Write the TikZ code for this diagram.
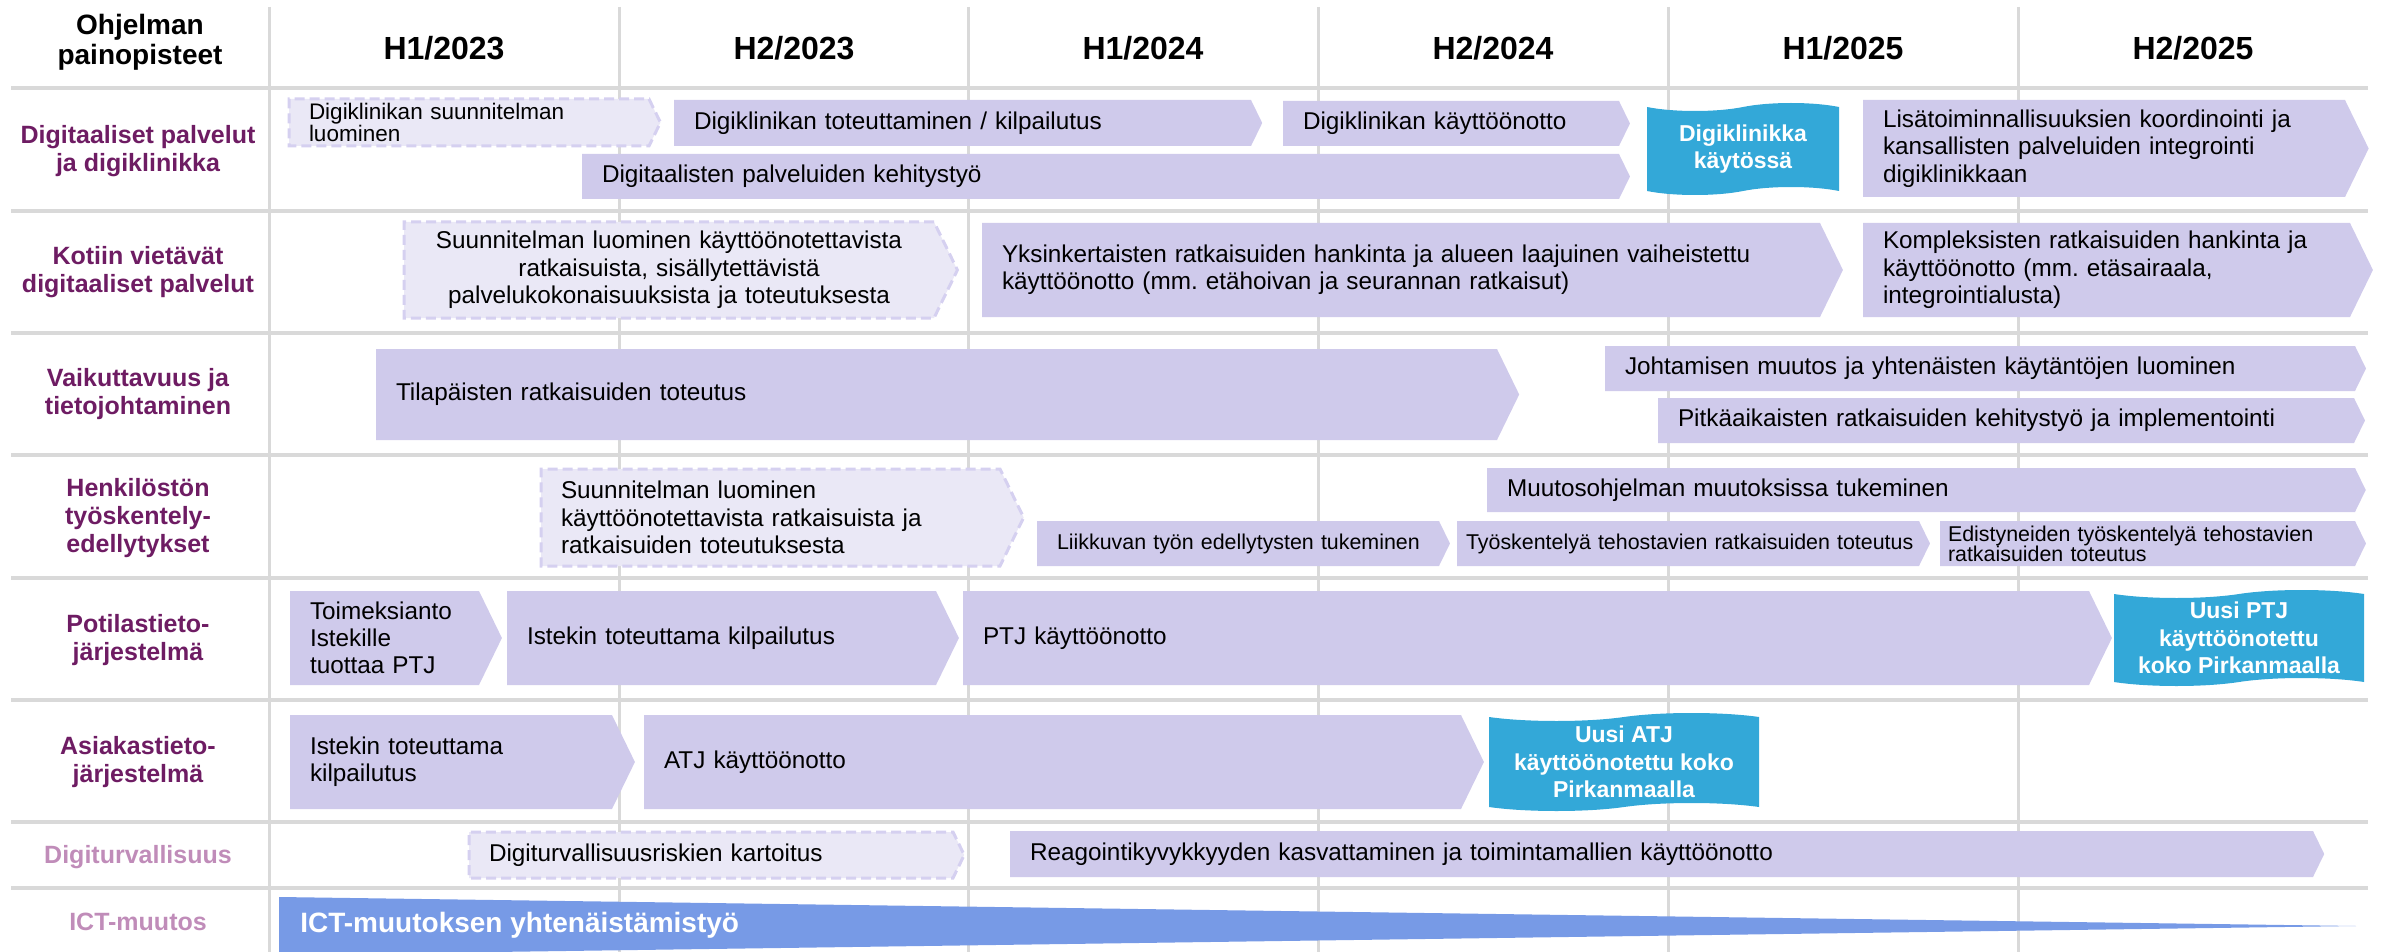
\documentclass[tikz,border=0pt]{standalone}
\usepackage{fontspec}
\setmainfont{Liberation Sans}
\usetikzlibrary{shapes.symbols}
\frenchspacing

\definecolor{gridgray}{RGB}{217,217,217}
\definecolor{taskfill}{RGB}{207,202,235}
\definecolor{planfill}{RGB}{234,232,246}
\definecolor{planline}{RGB}{213,208,240}
\definecolor{flagblue}{RGB}{51,168,216}
\definecolor{ictblue}{RGB}{119,154,230}
\definecolor{themedark}{RGB}{110,28,99}
\definecolor{themelight}{RGB}{192,140,185}

\begin{document}
\begin{tikzpicture}[x=1pt,y=-1pt,
  every node/.style={outer sep=0pt},
  grid/.style={gridgray,line width=3pt},
  half/.style={font=\fontsize{32}{36}\selectfont\bfseries},
  theme/.style={themedark,align=center,font=\fontsize{25}{28}\selectfont\bfseries},
  minor/.style={theme,themelight},
  task/.style={signal,signal to=east,signal pointer angle=128,fill=taskfill,
    inner xsep=20pt,inner ysep=0pt,anchor=west,align=left,
    font=\fontsize{24.3}{27.3}\selectfont},
  plan/.style={task,fill=planfill,draw=planline,line width=3pt,
    dash pattern=on 10pt off 5pt},
  small/.style={font=\fontsize{21.4}{20}\selectfont},
  flag/.style={tape,fill=flagblue,text=white,align=center,inner sep=0pt,
    tape bend height=8pt,font=\fontsize{23}{27.5}\selectfont\bfseries}]
\useasboundingbox (0,0) rectangle (2386,952);

% grid
\foreach \x in {269,619,968,1318,1668,2018}
  \draw[grid] (\x,7) -- (\x,952);
\foreach \y in {88,211,333,455,578,700,822,888}
  \draw[grid,line width=4pt] (11,\y) -- (2368,\y);

% header
\node[align=center,font=\fontsize{28}{30}\selectfont\bfseries] (head) at (140,42) {Ohjelman\\painopisteet};
\node[half] (h1_23) at (444,48)  {H1/2023};
\node[half] (h2_23) at (794,48)  {H2/2023};
\node[half] (h1_24) at (1143,48) {H1/2024};
\node[half] (h2_24) at (1493,48) {H2/2024};
\node[half] (h1_25) at (1843,48) {H1/2025};
\node[half] (h2_25) at (2193,48) {H2/2025};

% themes
\node[theme] (th_1) at (138,151) {Digitaaliset palvelut\\ja digiklinikka};
\node[theme] (th_2) at (138,272) {Kotiin vietävät\\digitaaliset palvelut};
\node[theme] (th_3) at (138,394) {Vaikuttavuus ja\\tietojohtaminen};
\node[theme] (th_4) at (138,518) {Henkilöstön\\työskentely-\\edellytykset};
\node[theme] (th_5) at (138,640) {Potilastieto-\\järjestelmä};
\node[theme] (th_6) at (138,762) {Asiakastieto-\\järjestelmä};
\node[minor] (th_7) at (138,857) {Digiturvallisuus};
\node[minor] (th_8) at (138,922) {ICT-muutos};

% row 1
\node[plan,font=\fontsize{22.5}{20}\selectfont,text width=320,minimum height=47] (r1_a) at (289,122.5) {Digiklinikan suunnitelman\\luominen};
\node[task,text width=537,minimum height=46] (r1_b) at (674,123) {Digiklinikan toteuttaminen / kilpailutus};
\node[task,text width=296,minimum height=45] (r1_c) at (1283,123.5) {Digiklinikan käyttöönotto};
\node[task,text width=997,minimum height=45] (r1_d) at (582,176.5) {Digitaalisten palveluiden kehitystyö};
\node[flag,minimum width=192,minimum height=92] (r1_f) at (1743,149) {Digiklinikka\\käytössä};
\node[task,text width=442,minimum height=97] (r1_e) at (1863,148.5) {Lisätoiminnallisuuksien koordinointi ja\\kansallisten palveluiden integrointi\\digiklinikkaan};

% row 2
\node[plan,align=center,text width=490,minimum height=96] (r2_a) at (404,270) {Suunnitelman luominen käyttöönotettavista\\ratkaisuista, sisällytettävistä\\palvelukokonaisuuksista ja toteutuksesta};
\node[task,text width=798,minimum height=94] (r2_b) at (982,270) {Yksinkertaisten ratkaisuiden hankinta ja alueen laajuinen vaiheistettu\\käyttöönotto (mm. etähoivan ja seurannan ratkaisut)};
\node[task,text width=447,minimum height=94] (r2_c) at (1863,270) {Kompleksisten ratkaisuiden hankinta ja\\käyttöönotto (mm. etäsairaala,\\integrointialusta)};

% row 3
\node[task,text width=1081,minimum height=91] (r3_a) at (376,394.5) {Tilapäisten ratkaisuiden toteutus};
\node[task,text width=710,minimum height=45] (r3_b) at (1605,368.5) {Johtamisen muutos ja yhtenäisten käytäntöjen luominen};
\node[task,text width=656,minimum height=45] (r3_c) at (1658,420.5) {Pitkäaikaisten ratkaisuiden kehitystyö ja implementointi};

% row 4
\node[plan,text width=419,minimum height=97] (r4_a) at (541,517.5) {Suunnitelman luominen\\käyttöönotettavista ratkaisuista ja\\ratkaisuiden toteutuksesta};
\node[task,text width=828,minimum height=44] (r4_b) at (1487,490) {Muutosohjelman muutoksissa tukeminen};
\node[task,small,text width=362,minimum height=45] (r4_c) at (1037,543.5) {\mbox{Liikkuvan työn edellytysten tukeminen}};
\node[task,small,inner xsep=9pt,text width=444,minimum height=45] (r4_d) at (1457,543.5) {\mbox{Työskentelyä tehostavien ratkaisuiden toteutus}};
\node[task,small,inner xsep=8pt,text width=399,minimum height=45] (r4_e) at (1940,543.5) {Edistyneiden työskentelyä tehostavien\\ratkaisuiden toteutus};

% row 5
\node[task,text width=149,minimum height=94] (r5_a) at (290,638) {Toimeksianto\\Istekille\\tuottaa PTJ};
\node[task,text width=389,minimum height=94] (r5_b) at (507,638) {Istekin toteuttama kilpailutus};
\node[task,text width=1086,minimum height=94] (r5_c) at (963,638) {PTJ käyttöönotto};
\node[flag,minimum width=250,minimum height=96] (r5_f) at (2239,638) {Uusi PTJ\\käyttöönotettu\\koko Pirkanmaalla};

% row 6
\node[task,text width=282,minimum height=94] (r6_a) at (290,762) {Istekin toteuttama\\kilpailutus};
\node[task,text width=777,minimum height=94] (r6_b) at (644,762) {ATJ käyttöönotto};
\node[flag,minimum width=270,minimum height=98] (r6_f) at (1624,762) {Uusi ATJ\\käyttöönotettu koko\\Pirkanmaalla};

% row 7
\node[plan,text width=444,minimum height=46] (r7_a) at (469,855) {Digiturvallisuusriskien kartoitus};
\node[task,text width=1263,minimum height=46] (r7_b) at (1010,854) {Reagointikyvykkyyden kasvattaminen ja toimintamallien käyttöönotto};

% row 8
\fill[ictblue] (279,897) -- (2356,926) -- (279,955) -- cycle;
\node[anchor=west,text=white,font=\fontsize{28}{30}\selectfont\bfseries] (r8_a) at (297,925) {ICT-muutoksen yhtenäistämistyö};
\end{tikzpicture}
\end{document}
